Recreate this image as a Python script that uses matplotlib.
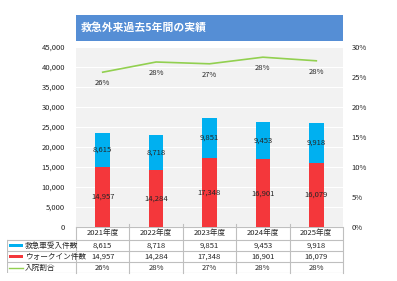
import matplotlib
matplotlib.use("Agg")
import matplotlib.pyplot as plt
from matplotlib.patches import Rectangle
import numpy as np

plt.rcParams['font.family'] = ['Noto Sans CJK JP', 'DejaVu Sans']

years = ["2021年度", "2022年度", "2023年度", "2024年度", "2025年度"]
ambulance = [8615, 8718, 9851, 9453, 9918]
walkin = [14957, 14284, 17348, 16901, 16079]
admit_rate = [0.258, 0.275, 0.272, 0.283, 0.277]
series_names = ["救急車受入件数", "ウォークイン件数", "入院割合"]
title = "救急外来過去5年間の実績"

c_blue = "#00b0f0"
c_red = "#f4373b"
c_green = "#92d050"

W, H = 397, 281
fig = plt.figure(figsize=(W / 100, H / 100), dpi=100)
fig.patch.set_facecolor("white")

def fx(px):
    return px / W

def fy(py):
    return 1 - py / H

# title banner
L, R = 76, 343
fig.patches.append(Rectangle((fx(L), fy(41)), fx(R) - fx(L), fy(15) - fy(41),
                             transform=fig.transFigure, facecolor="#558ed5",
                             edgecolor="none"))
fig.text(fx(81), fy(28), title, color="white", fontsize=7.8, fontweight="bold",
         va="center", ha="left")

top, bottom = 47, 227
ax = fig.add_axes([fx(L), fy(bottom), fx(R) - fx(L), fy(top) - fy(bottom)])
ax.set_facecolor("#f2f2f2")
x = np.arange(len(years))
bw = 0.27
ax.bar(x, walkin, bw, color=c_red, zorder=3)
ax.bar(x, ambulance, bw, bottom=walkin, color=c_blue, zorder=3)
for i in range(len(years)):
    ax.text(x[i], walkin[i] / 2, f"{walkin[i]:,}", ha="center", va="center",
            fontsize=5.5, color="#262626", zorder=5)
    ax.text(x[i], walkin[i] + ambulance[i] / 2, f"{ambulance[i]:,}", ha="center",
            va="center", fontsize=5.5, color="#262626", zorder=5)
ax.set_xlim(-0.5, len(years) - 0.5)
ax.set_ylim(0, 45000)
ax.set_yticks(np.arange(0, 45001, 5000))
ax.set_yticklabels([f"{v:,}" for v in range(0, 45001, 5000)], fontsize=5.5,
                   color="#262626")
ax.yaxis.grid(True, color="white", linewidth=0.8, zorder=0)
ax.set_axisbelow(True)
ax.tick_params(axis="y", length=0, pad=8)
ax.set_xticks([])
for s in ax.spines.values():
    s.set_visible(False)

ax2 = ax.twinx()
ax2.plot(x, admit_rate, color=c_green, linewidth=1.2, zorder=4)
for i in range(len(years)):
    ax2.annotate(f"{admit_rate[i]*100:.0f}%", (x[i], admit_rate[i]),
                 xytext=(0, -8), textcoords="offset points", ha="center",
                 va="center", fontsize=5.5, color="#262626")
ax2.set_ylim(0, 0.30)
ax2.set_yticks(np.arange(0, 0.301, 0.05))
ax2.set_yticklabels([f"{int(round(v*100))}%" for v in np.arange(0, 0.301, 0.05)],
                    fontsize=5.5, color="#262626")
ax2.tick_params(axis="y", length=0, pad=6)
for s in ax2.spines.values():
    s.set_visible(False)

# data table
tL, tB, tT = 7, 273, 227
tax = fig.add_axes([fx(tL), fy(tB), fx(R) - fx(tL), fy(tT) - fy(tB)])
tax.set_xlim(tL, R)
tax.set_ylim(tB, tT)
tax.axis("off")
gc = "#bfbfbf"
rows_y = [227, 240, 251, 262, 273]
colw = (R - L) / len(years)
# horizontal lines
tax.plot([L, R], [rows_y[0], rows_y[0]], color=gc, lw=0.8)
for yy in rows_y[1:]:
    tax.plot([tL, R], [yy, yy], color=gc, lw=0.8)
# vertical lines
for k in range(len(years) + 1):
    xx = L + k * colw
    tax.plot([xx, xx], [rows_y[0] - 3 if 0 < k < len(years) else rows_y[0], tB],
             color=gc, lw=0.8, clip_on=False)
tax.plot([tL, tL], [rows_y[1], tB], color=gc, lw=0.8)
for k, yr in enumerate(years):
    tax.text(L + (k + 0.5) * colw, (rows_y[0] + rows_y[1]) / 2, yr, ha="center",
             va="center", fontsize=5.5, color="#262626")
vals = [[f"{v:,}" for v in ambulance], [f"{v:,}" for v in walkin],
        [f"{v*100:.0f}%" for v in admit_rate]]
colors = [c_blue, c_red, c_green]
for r in range(3):
    yc = (rows_y[r + 1] + rows_y[r + 2]) / 2
    for k in range(len(years)):
        tax.text(L + (k + 0.5) * colw, yc, vals[r][k], ha="center", va="center",
                 fontsize=5.5, color="#262626")
    if r < 2:
        tax.add_patch(Rectangle((tL + 2, yc - 1.2), 14, 2.4, facecolor=colors[r],
                                edgecolor="none"))
    else:
        tax.plot([tL + 2, tL + 16], [yc, yc], color=colors[r], lw=1.0)
    tax.text(tL + 18, yc, series_names[r], ha="left", va="center", fontsize=5.5,
             color="#262626")

fig.savefig("out.png", dpi=100)
